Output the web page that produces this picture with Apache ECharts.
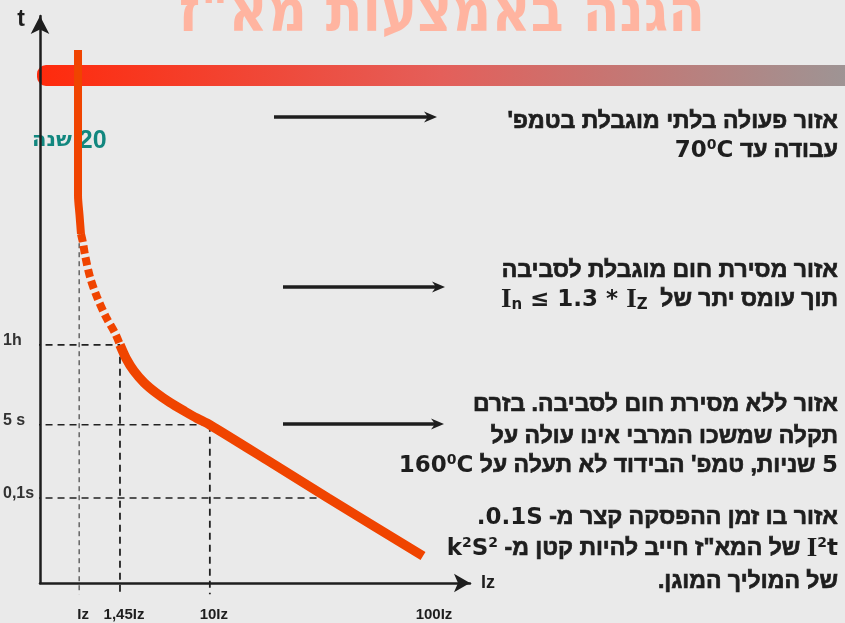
<!DOCTYPE html>
<html>
<head>
<meta charset="utf-8">
<script src="https://cdn.jsdelivr.net/npm/echarts@6/dist/echarts.min.js"></script>
<style>
  html, body { margin: 0; padding: 0; background: #eaeaea; }
  #chart { width: 845px; height: 623px; }
</style>
</head>
<body>
<div id="chart"></div>
<script>
// ---- Schematic time/current characteristic of a miniature circuit breaker ----
// Both axes are schematic (0..100 units), not to scale.

// current axis marks
const currentTicks = ['Iz', '1,45Iz', '10Iz', '100Iz'];
const currentTickPos = [9.1, 18.6, 39.5, 90.7];
// time axis marks
const timeTicks = ['0,1s', '5 s', '1h'];
const timeTickPos = [15.0, 27.9, 42.0];

// where the current guides meet the curve (time value) – Iz, 1,45Iz, 10Iz
const currentGuideTops = [63.1, 42.0, 27.9];
// where the time guides meet the curve (current value) – 0,1s, 5 s, 1h
const timeGuideEnds = [67.0, 39.5, 18.6];

// trip curve, upper part (unlimited operation at working temperature)
const curveUpper = [[8.84, 94.0], [8.84, 68.4], [9.19, 64.9], [9.53, 61.55]];
// trip curve, overload zone with limited heat dissipation
const curveOverload = [[9.53, 61.55], [10.0, 60.0], [10.47, 57.85], [11.63, 53.97],
  [13.26, 50.44], [15.35, 46.91], [17.44, 44.09], [18.6, 42.0]];
// trip curve, adiabatic zone
const curveShort = [[18.6, 42.0], [20.0, 39.65], [21.86, 37.39], [24.19, 35.36],
  [26.98, 33.56], [30.23, 31.83], [33.72, 30.25], [36.51, 29.05], [39.5, 27.9],
  [52.79, 21.69], [66.98, 14.99], [89.07, 4.76]];

const FONT = '"Liberation Sans", "DejaVu Sans", Arial, sans-serif';
const HEB = '"Liberation Sans", "DejaVu Sans", sans-serif';
const WIDE = '"DejaVu Sans", Verdana, sans-serif';
const SERIF = '"Liberation Serif", "DejaVu Serif", serif';
const INK = '#1e1e1e';
const CURVE = '#f04400';

const chart = echarts.init(document.getElementById('chart'));

function guide(points, width, dash) {
  return {
    type: 'line', data: points, symbol: 'none', silent: true, clip: false, z: 1,
    lineStyle: { color: '#222', width: width, type: dash }
  };
}

const series = [];
currentTickPos.slice(0, 3).forEach((x, i) => {
  series.push(guide([[x, currentGuideTops[i]], [x, -2.0]], i === 0 ? 1 : 1.8, i === 0 ? [5, 4] : [7, 5]));
});
timeTickPos.forEach((y, j) => {
  series.push(guide([[-1.5, y], [timeGuideEnds[j], y]], 1.6, [7, 5]));
});
series.push({
  type: 'line', data: curveUpper, symbol: 'none', smooth: 0.3, z: 3, silent: true,
  lineStyle: { color: CURVE, width: 8, cap: 'butt' }
});
series.push({
  type: 'line', data: curveOverload, symbol: 'none', smooth: 0.3, z: 3, silent: true,
  lineStyle: { color: CURVE, width: 8, type: [8, 4], cap: 'butt' }
});
series.push({
  type: 'line', data: curveShort, symbol: 'none', smooth: 0.25, z: 3, silent: true,
  lineStyle: { color: CURVE, width: 9.5, cap: 'butt' }
});

// text styles for the explanation blocks (Hebrew runs get a thin stroke for weight)
const txt = {
  h: { font: 'bold 23px ' + HEB, fill: INK, stroke: INK, lineWidth: 0.7, lineHeight: 26 },
  l: { font: 'bold 23px ' + WIDE, fill: INK, lineHeight: 26 },
  sup: { font: 'bold 14px ' + WIDE, fill: INK, lineHeight: 14, verticalAlign: 'top' },
  sub: { font: 'bold 15px ' + WIDE, fill: INK, lineHeight: 15, verticalAlign: 'bottom' },
  ser: { font: 'bold 27px ' + SERIF, fill: INK, lineHeight: 26 }
};

function line(y, text) {
  return {
    type: 'text', x: 838, y: y, z: 10,
    style: { text: text, rich: txt, align: 'right', verticalAlign: 'middle', fill: INK, font: 'bold 23px ' + HEB }
  };
}

function arrow(x1, x2, y) {
  return {
    type: 'group', children: [
      { type: 'line', shape: { x1: x1, y1: y, x2: x2 - 6, y2: y }, style: { stroke: INK, lineWidth: 3.5 } },
      { type: 'polygon', shape: { points: [[x2, y], [x2 - 13, y - 5.5], [x2 - 9, y], [x2 - 13, y + 5.5]] }, style: { fill: INK } }
    ]
  };
}

const graphic = [
  // title
  {
    type: 'text', x: 442, y: 15, z: 1,
    style: {
      text: 'הגנה באמצעות מא"ז', fill: '#ffb4a0', align: 'center', verticalAlign: 'middle',
      font: 'bold 60px "DejaVu Sans Condensed", "DejaVu Sans", sans-serif'
    }
  },
  // header bar
  {
    type: 'rect', z: -1,
    shape: { x: 37, y: 65, width: 808, height: 21, r: [9, 0, 0, 9] },
    style: {
      fill: new echarts.graphic.LinearGradient(0, 0, 1, 0, [
        { offset: 0, color: '#ff2a0c' },
        { offset: 0.5, color: '#e45f5a' },
        { offset: 1, color: '#9e9494' }
      ])
    }
  },
  // 20 years mark
  {
    type: 'text', x: 32, y: 141, z: 2,
    style: {
      text: '{t|שנה}{n| 20}',
      rich: {
        t: { font: 'bold 21px "DejaVu Sans", sans-serif', fill: '#12877f' },
        n: { font: 'bold 25px ' + FONT, fill: '#12877f' }
      },
      align: 'left', verticalAlign: 'middle'
    }
  },
  arrow(274, 437, 117),
  arrow(283, 445, 287),
  arrow(283, 444, 424),
  line(122, "{h|'}{h|אזור פעולה בלתי מוגבלת בטמפ}"),
  line(151, '{l|70}{sup|0}{l|C}{h| }{h|עבודה עד}'),
  line(271, '{h|אזור מסירת חום מוגבלת לסביבה}'),
  line(300, '{ser|I}{sub|n}{l| ≤ 1.3 * }{ser|I}{sub|Z}{h|  }{h|תוך עומס יתר של}'),
  line(405, '{h|אזור ללא מסירת חום לסביבה. בזרם}'),
  line(437, '{h|תקלה שמשכו המרבי אינו עולה על}'),
  line(466, "{l|160}{sup|0}{l|C}{h| }{h|שניות, טמפ' הבידוד לא תעלה על}{h| }{l|5}"),
  line(518, '{l|.}{l|0.1S}{h| -}{h|אזור בו זמן ההפסקה קצר מ}'),
  line(549, '{l|k}{sup|2}{l|S}{sup|2}{h| -}{h|של המא"ז חייב להיות קטן מ}{h| }{ser|I}{sup|2}{l|t}'),
  line(582, '{h|.}{h|של המוליך המוגן}')
];

chart.setOption({
  backgroundColor: '#eaeaea',
  animation: false,
  grid: { left: 40, right: 375, top: 16, bottom: 40 },
  xAxis: {
    type: 'value', min: 0, max: 100, z: 5,
    name: 'Iz', nameLocation: 'end', nameGap: 11,
    nameTextStyle: { fontFamily: FONT, fontWeight: 'bold', fontSize: 18, color: INK, verticalAlign: 'middle', align: 'left' },
    axisLine: { lineStyle: { color: INK, width: 2.5 }, symbol: ['none', 'arrow'], symbolSize: [14, 16] },
    axisTick: { show: false },
    splitLine: { show: false },
    axisLabel: {
      customValues: currentTickPos, margin: 24,
      formatter: v => '{l|' + currentTicks[currentTickPos.indexOf(v)] + '}',
      rich: { l: { fontFamily: FONT, fontWeight: 'bold', fontSize: 15, color: INK, padding: [0, 0, 0, 8] } }
    }
  },
  yAxis: {
    type: 'value', min: 0, max: 100, z: 5,
    name: 't', nameLocation: 'end', nameGap: -4,
    nameTextStyle: { fontFamily: FONT, fontWeight: 'bold', fontSize: 23, color: INK, align: 'right', verticalAlign: 'middle', padding: [0, 15, 0, 0] },
    axisLine: { lineStyle: { color: INK, width: 2.5 }, symbol: ['none', 'arrow'], symbolSize: [14, 18] },
    axisTick: { show: false },
    splitLine: { show: false },
    axisLabel: {
      customValues: timeTickPos, margin: 37, align: 'left',
      formatter: v => '{l|' + timeTicks[timeTickPos.indexOf(v)] + '}',
      rich: { l: { fontFamily: FONT, fontWeight: 'bold', fontSize: 16, color: '#333', padding: [0, 0, 9, 0] } }
    }
  },
  graphic: graphic,
  series: series
});
</script>
</body>
</html>
